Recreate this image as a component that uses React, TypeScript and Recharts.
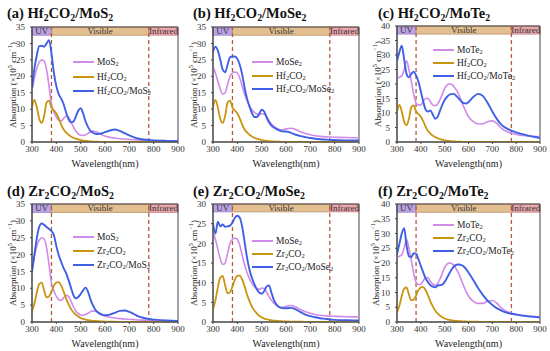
import React from 'react';
import { LineChart, Line, XAxis, YAxis, ReferenceArea, ReferenceLine } from 'recharts';

const FONT = '"Liberation Serif", "Times New Roman", serif';
const C_MONO = '#d08ae8';
const C_MX = '#c89510';
const C_HET = '#3f60e4';

const WL = [300, 310, 320, 330, 340, 350, 360, 370, 380, 390, 400, 410, 420, 430, 440, 450, 460, 470, 480, 490, 500, 510, 520, 530, 540, 550, 560, 570, 580, 590, 600, 620, 640, 660, 680, 700, 720, 740, 760, 780, 800, 850, 900];
const X_TICKS = [300, 400, 500, 600, 700, 800, 900];
const Y_TICKS_35 = [0, 5, 10, 15, 20, 25, 30, 35];
const Y_TICKS_40 = [0, 5, 10, 15, 20, 25, 30, 35, 40];
const Y_TICKS_30 = [0, 5, 10, 15, 20, 25, 30];

const HF2CO2 = [10.5, 12.8, 10.5, 7.0, 5.8, 8.0, 12.0, 12.6, 10.5, 9.6,
  8.7, 7.2, 5.3, 3.8, 2.9, 2.2, 1.7, 1.3, 1.0, 0.8,
  0.6, 0.45, 0.35, 0.25, 0.2, 0.15, 0.1, 0.08, 0.06, 0.05,
  0.04, 0.03, 0.02, 0.02, 0.01, 0.01, 0.01, 0.01, 0, 0, 0, 0, 0];
const ZR2CO2 = [3.2, 5.5, 8.8, 11.3, 11.7, 9.3, 7.3, 7.6, 9.0, 10.8,
  11.7, 11.8, 10.8, 9.0, 7.0, 5.3, 3.9, 2.9, 2.2, 1.6,
  1.2, 0.9, 0.7, 0.55, 0.45, 0.35, 0.3, 0.25, 0.2, 0.17,
  0.14, 0.1, 0.08, 0.06, 0.05, 0.04, 0.03, 0.03, 0.02, 0.02, 0.02, 0.01, 0.01];
const MOS2 = [15.5, 19.5, 22.5, 24.3, 25.0, 24.6, 22.0, 17.0, 11.5, 9.2,
  7.6, 6.6, 6.4, 7.2, 7.9, 7.6, 6.2, 4.6, 3.3, 2.5,
  2.1, 2.0, 2.2, 2.6, 3.0, 3.3, 3.2, 2.9, 2.5, 2.1,
  1.8, 1.4, 1.2, 1.0, 0.9, 0.8, 0.7, 0.6, 0.55, 0.5, 0.45, 0.4, 0.35];
const MOSE2 = [23.0, 21.0, 18.5, 16.0, 14.6, 15.0, 17.5, 20.0, 21.0, 21.3,
  21.0, 19.5, 17.0, 14.5, 12.5, 11.0, 9.8, 9.0, 8.5, 8.3,
  8.6, 8.5, 7.6, 6.5, 5.5, 4.8, 4.2, 3.9, 3.7, 3.8,
  4.0, 4.2, 3.8, 3.1, 2.6, 2.2, 1.9, 1.7, 1.6, 1.5, 1.45, 1.35, 1.3];
const MOTE2 = [22.0, 22.3, 22.8, 25.0, 28.0, 25.0, 21.0, 16.5, 13.5, 12.7,
  12.8, 14.0, 15.0, 15.0, 13.8, 12.8, 12.5, 13.0, 14.5, 16.5,
  18.5, 19.6, 20.0, 19.8, 19.0, 17.8, 16.2, 14.2, 12.2, 10.3,
  8.8, 7.0, 6.3, 6.3, 7.0, 7.3, 6.3, 4.6, 3.6, 3.0, 2.6, 2.1, 1.8];
const HF_MOS2 = [16.5, 22.5, 26.5, 29.2, 29.3, 29.0, 30.0, 31.0, 27.0, 21.0,
  17.0, 14.5, 13.2, 11.5, 9.0, 7.0, 6.0, 6.2, 7.7, 9.5,
  10.3, 8.7, 6.3, 4.6, 3.4, 2.8, 2.5, 2.4, 2.5, 2.7,
  3.0, 3.5, 3.8, 3.4, 2.7, 2.0, 1.4, 1.0, 0.75, 0.6, 0.5, 0.35, 0.25];
const HF_MOSE2 = [27.5, 29.0, 27.8, 25.0, 22.0, 21.2, 23.5, 25.8, 26.0, 26.0,
  25.3, 23.5, 20.5, 16.5, 13.2, 10.8, 8.8, 7.6, 7.6, 8.6,
  9.8, 9.3, 7.6, 6.0, 5.0, 4.4, 4.0, 3.6, 3.3, 3.2,
  3.2, 2.8, 2.2, 1.8, 1.5, 1.2, 1.0, 0.85, 0.75, 0.65, 0.6, 0.5, 0.45];
const HF_MOTE2 = [28.0, 31.0, 33.2, 28.5, 23.5, 22.3, 23.5, 24.2, 23.0, 20.8,
  17.5, 14.0, 11.2, 10.5, 10.9, 9.5, 8.0, 8.6, 10.7, 12.8,
  14.5, 15.6, 16.3, 16.6, 16.5, 15.8, 14.9, 14.0, 13.4, 13.3,
  13.8, 15.5, 16.6, 15.9, 13.5, 10.5, 7.8, 5.8, 4.7, 3.9, 3.3, 2.2, 1.4];
const ZR_MOS2 = [14.8, 20.0, 25.0, 28.3, 29.2, 28.8, 28.2, 27.6, 27.0, 25.8,
  22.5, 19.8, 17.8, 16.0, 14.5, 12.5, 10.2, 8.0, 7.0, 7.4,
  8.3, 9.4, 10.2, 9.0, 6.8, 5.0, 3.7, 2.9, 2.4, 2.1,
  2.0, 2.2, 2.7, 3.3, 3.4, 3.0, 2.3, 1.6, 1.2, 0.9, 0.7, 0.45, 0.3];
const ZR_MOSE2 = [25.0, 22.5, 25.5, 24.3, 24.8, 24.2, 24.3, 24.5, 25.3, 26.5,
  27.0, 26.5, 24.2, 20.3, 16.3, 13.3, 11.2, 9.6, 8.3, 7.5,
  7.2, 7.8, 9.0, 9.3, 7.5, 5.6, 4.5, 3.9, 3.6, 3.5,
  3.5, 3.6, 3.2, 2.5, 1.9, 1.5, 1.2, 0.95, 0.8, 0.65, 0.55, 0.45, 0.4];
const ZR_MOTE2 = [23.0, 26.5, 30.0, 31.8, 26.0, 22.3, 22.0, 23.3, 23.2, 21.2,
  19.0, 16.8, 14.8, 13.5, 12.5, 12.0, 11.8, 12.3, 12.5, 12.7,
  13.6, 15.0, 16.5, 17.9, 18.9, 19.4, 19.5, 19.3, 18.8, 17.9,
  16.8, 14.2, 11.5, 9.2, 7.2, 5.8, 4.6, 3.8, 3.2, 2.8, 2.5, 1.9, 1.5];

const Sub = ({ children }: { children: React.ReactNode }) => (
  <sub style={{ fontSize: '0.68em', verticalAlign: 'baseline', position: 'relative', top: '0.3em' }}>{children}</sub>
);

const N_HF = <>Hf<Sub>2</Sub>CO<Sub>2</Sub></>;
const N_ZR = <>Zr<Sub>2</Sub>CO<Sub>2</Sub></>;
const N_MOS2 = <>MoS<Sub>2</Sub></>;
const N_MOSE2 = <>MoSe<Sub>2</Sub></>;
const N_MOTE2 = <>MoTe<Sub>2</Sub></>;

const PANELS = [
  { tag: '(a)', mxName: N_HF, monoName: N_MOS2, mono: MOS2, mx: HF2CO2, het: HF_MOS2, yMax: 35, yTicks: Y_TICKS_35, band: 32.5,
    L: 32, T: 27, R: 178, B: 142, titleX: 7, titleY: 13, labX: 11, legX: 73, legY: [62, 77, 91] },
  { tag: '(b)', mxName: N_HF, monoName: N_MOSE2, mono: MOSE2, mx: HF2CO2, het: HF_MOSE2, yMax: 35, yTicks: Y_TICKS_35, band: 32.5,
    L: 213, T: 27, R: 359, B: 142, titleX: 193, titleY: 13, labX: 192, legX: 252, legY: [62, 76, 89] },
  { tag: '(c)', mxName: N_HF, monoName: N_MOTE2, mono: MOTE2, mx: HF2CO2, het: HF_MOTE2, yMax: 40, yTicks: Y_TICKS_40, band: 37.2,
    L: 397, T: 26, R: 540, B: 142, titleX: 378, titleY: 13, labX: 376, legX: 433, legY: [50, 63, 76] },
  { tag: '(d)', mxName: N_ZR, monoName: N_MOS2, mono: MOS2, mx: ZR2CO2, het: ZR_MOS2, yMax: 35, yTicks: Y_TICKS_35, band: 32.5,
    L: 32, T: 204, R: 178, B: 322, titleX: 7, titleY: 191, labX: 11, legX: 73, legY: [237, 251, 265] },
  { tag: '(e)', mxName: N_ZR, monoName: N_MOSE2, mono: MOSE2, mx: ZR2CO2, het: ZR_MOSE2, yMax: 30, yTicks: Y_TICKS_30, band: 28,
    L: 213, T: 204, R: 359, B: 322, titleX: 193, titleY: 191, labX: 192, legX: 252, legY: [241, 254, 267] },
  { tag: '(f)', mxName: N_ZR, monoName: N_MOTE2, mono: MOTE2, mx: ZR2CO2, het: ZR_MOTE2, yMax: 40, yTicks: Y_TICKS_40, band: 37.2,
    L: 397, T: 204, R: 540, B: 322, titleX: 378, titleY: 191, labX: 374, legX: 433, legY: [225, 238, 251] },
];

const tickStyle = { fontSize: 9, fill: '#333', fontFamily: FONT };
const bandLabel = (v: string) => ({ value: v, position: 'center' as const, fontSize: 9, fill: '#333', fontFamily: FONT });

const M_TOP = 8;
const M_RIGHT = 10;
const Y_W = 30;
const X_H = 20;

function Panel({ p }: { p: typeof PANELS[number] }) {
  const data = WL.map((w, i) => ({ wl: w, mono: p.mono[i], mx: p.mx[i], het: p.het[i] }));
  const W = p.R - p.L + Y_W + M_RIGHT;
  const H = p.B - p.T + M_TOP + X_H;
  const legend = [
    { c: C_MONO, n: p.monoName, w: 1.8 },
    { c: C_MX, n: p.mxName, w: 2 },
    { c: C_HET, n: <>{p.mxName}/{p.monoName}</>, w: 2 },
  ];
  return (
    <>
      <div style={{ position: 'absolute', left: p.L - Y_W, top: p.T - M_TOP }}>
        <LineChart width={W} height={H} data={data} margin={{ top: M_TOP, right: M_RIGHT, bottom: 0, left: 0 }}>
          <XAxis dataKey="wl" type="number" domain={[300, 900]} ticks={X_TICKS} interval={0} height={X_H}
            tickSize={2} tickMargin={2} tick={tickStyle} stroke="#444" allowDataOverflow />
          <YAxis type="number" domain={[0, p.yMax]} ticks={p.yTicks} interval={0} width={Y_W}
            tickSize={2} tickMargin={5} tick={tickStyle} stroke="#444" allowDataOverflow />
          <ReferenceArea x1={300} x2={380} y1={p.band} y2={p.yMax} fill="#bba3e4" fillOpacity={1} stroke="#9c7fc8" strokeWidth={0.8} label={bandLabel('UV')} />
          <ReferenceArea x1={380} x2={780} y1={p.band} y2={p.yMax} fill="#e3bf8f" fillOpacity={1} stroke="#b98f68" strokeWidth={0.8} label={bandLabel('Visible')} />
          <ReferenceArea x1={780} x2={900} y1={p.band} y2={p.yMax} fill="#e9a7ab" fillOpacity={1} stroke="#c98388" strokeWidth={0.8} label={bandLabel('Infrared')} />
          <ReferenceLine x={380} stroke="#b45a3c" strokeDasharray="4 3" strokeWidth={1.3} />
          <ReferenceLine x={780} stroke="#b45a3c" strokeDasharray="4 3" strokeWidth={1.3} />
          <Line dataKey="mono" type="monotone" stroke={C_MONO} strokeWidth={1.6} dot={false} isAnimationActive={false} />
          <Line dataKey="mx" type="monotone" stroke={C_MX} strokeWidth={1.8} dot={false} isAnimationActive={false} />
          <Line dataKey="het" type="monotone" stroke={C_HET} strokeWidth={1.9} dot={false} isAnimationActive={false} />
          <ReferenceArea x1={300} x2={900} y1={0} y2={p.yMax} fill="none" stroke="#444" strokeWidth={1} />
        </LineChart>
      </div>
      <div style={{ position: 'absolute', left: p.titleX, top: p.titleY - 9, lineHeight: '18px', fontFamily: FONT, fontWeight: 'bold', fontSize: 14.5, whiteSpace: 'nowrap', color: '#111' }}>
        {p.tag} {p.mxName}/{p.monoName}
      </div>
      {legend.map((r, i) => (
        <div key={i} style={{ position: 'absolute', left: p.legX, top: p.legY[i] - 7, height: 14, lineHeight: '14px', display: 'flex', alignItems: 'center', fontFamily: FONT, fontSize: 9.5, whiteSpace: 'nowrap', color: '#222' }}>
          <span style={{ display: 'inline-block', width: 21, height: r.w, background: r.c, marginRight: 3 }} />
          <span>{r.n}</span>
        </div>
      ))}
      <div style={{ position: 'absolute', left: p.labX, top: (p.T + p.B) / 2, transform: 'translate(-50%, -50%) rotate(-90deg)', fontFamily: FONT, fontSize: 9, whiteSpace: 'nowrap', color: '#222', lineHeight: '12px' }}>
        Absorption (×10<sup style={{ fontSize: '0.7em' }}>5</sup> cm<sup style={{ fontSize: '0.7em' }}>−1</sup>)
      </div>
      <div style={{ position: 'absolute', left: (p.L + p.R) / 2, top: p.B + 21, transform: 'translate(-50%, -50%)', fontFamily: FONT, fontSize: 10, whiteSpace: 'nowrap', color: '#222' }}>
        Wavelength(nm)
      </div>
    </>
  );
}

export default function App() {
  return (
    <div style={{ position: 'absolute', left: 0, top: 0, width: 550, height: 351, background: '#fff', overflow: 'hidden' }}>
      {PANELS.map((p) => <Panel key={p.tag} p={p} />)}
    </div>
  );
}
